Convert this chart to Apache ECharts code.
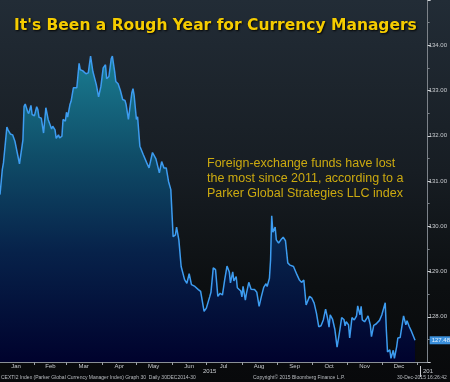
<!DOCTYPE html>
<html>
<head>
<meta charset="utf-8">
<script src="https://cdn.jsdelivr.net/npm/echarts@6/dist/echarts.min.js"></script>
<style>
html,body{margin:0;padding:0;}
body{width:450px;height:382px;overflow:hidden;background:linear-gradient(to bottom,#222c36 0%,#171d23 45%,#0c0f11 75%,#08090b 100%);}
#chart{width:450px;height:382px;}
</style>
</head>
<body>
<div id="chart"></div>
<script>
// Day of year 2015 (1 = Jan 1) for each observation
const dayOfYear = [2,4,5,8,9,11,13,15,17,19,20,22,23,24,26,27,29,30,32,34,35,36,38,40,41,42,44,45,47,48,50,51,53,54,56,57,59,60,61,63,64,66,67,69,71,72,74,77,79,81,83,84,86,88,90,92,94,95,97,99,100,102,103,105,107,109,111,112,114,115,117,118,119,121,122,124,125,127,128,130,132,133,135,138,141,143,145,147,149,151,152,153,155,156,158,160,163,165,167,169,172,175,177,178,180,182,185,186,188,190,192,194,196,198,200,202,203,205,206,208,209,212,213,214,216,217,219,221,222,224,226,228,230,232,234,235,237,238,239,240,242,243,245,247,249,251,253,255,258,259,261,263,265,267,268,269,272,274,276,278,280,282,284,286,288,289,290,292,294,296,298,300,302,303,304,306,307,309,311,313,314,316,317,318,320,322,323,325,326,328,330,331,333,335,338,339,340,342,343,345,346,348,349,351,352,354,356,357,359,361,364];
// Parker Global Currency Manager Index values
const indexValues = [130.70,131.25,131.40,132.19,132.13,132.04,132.02,131.88,131.63,131.38,
131.34,131.91,132.65,132.70,132.54,132.49,132.67,132.47,132.44,132.64,
132.58,132.41,132.39,132.06,132.10,132.62,132.36,132.32,132.15,132.21,
132.13,131.94,132.02,131.95,131.99,132.36,132.32,132.52,132.41,132.69,
132.76,133.06,133.04,133.06,133.60,133.46,133.44,133.37,133.39,133.76,
133.42,133.39,133.13,132.86,133.09,133.50,133.57,133.26,133.31,133.70,
133.76,133.42,133.20,133.15,133.00,132.80,132.78,132.69,132.36,132.32,
132.95,133.04,132.89,132.36,132.42,131.77,131.73,131.58,131.58,131.40,
131.29,131.27,131.63,131.49,131.18,131.43,131.29,131.29,130.99,130.81,
130.29,129.77,129.81,129.98,129.70,129.11,128.82,128.74,128.95,128.71,
128.67,128.60,128.56,128.58,128.12,128.19,128.45,128.54,129.08,129.04,
128.45,128.52,128.48,128.82,129.12,128.99,128.75,128.99,128.79,128.89,
128.64,128.57,128.44,128.67,128.37,128.52,128.76,128.61,128.58,128.60,
128.54,128.23,128.45,128.65,128.73,128.67,128.85,129.26,130.23,129.87,
129.98,129.70,129.63,129.70,129.76,129.68,129.19,129.14,129.11,129.13,
128.93,128.82,128.76,128.81,128.82,128.26,128.45,128.41,128.30,128.08,
127.78,127.80,127.93,128.17,127.93,127.77,128.04,127.95,127.73,127.33,
127.64,127.98,127.94,127.80,127.89,127.82,127.53,127.98,127.93,128.02,
128.24,128.04,128.23,127.93,127.89,127.97,128.02,127.82,127.56,127.81,
127.84,127.82,127.92,128.04,128.31,127.69,127.22,127.27,127.08,127.26,
127.08,127.34,127.53,127.54,127.58,128.02,127.82,127.91,127.78,127.67,
127.48];
// Month boundaries (day of year) and month label positions (mid-month)
const monthStarts = [32,60,91,121,152,182,213,244,274,305,335,366];
const monthMids = [16,46,75,106,136,167,197,228,259,289,320,350];
const monthNames = ['Jan','Feb','Mar','Apr','May','Jun','Jul','Aug','Sep','Oct','Nov','Dec'];

const titleText = "It's Been a Rough Year for Currency Managers";
const noteLines = ['Foreign-exchange funds have lost','the most since 2011, according to a','Parker Global Strategies LLC index'];
const footerLeft = 'CEXTI2 Index (Parker Global Currency Manager Index) Graph 30  Daily 30DEC2014-30';
const footerMid = 'Copyright\u00a9 2015 Bloomberg Finance L.P.';
const footerRight = '30-Dec-2015 16:26:42';

const seriesData = dayOfYear.map((d, i) => [d, indexValues[i]]);
const lastValue = indexValues[indexValues.length - 1];

const chart = echarts.init(document.getElementById('chart'), null, {renderer: 'canvas'});
const font = 'Liberation Sans, Arial, sans-serif';

chart.setOption({
  backgroundColor: 'transparent',
  animation: false,
  grid: {left: 0, right: 21, top: 0, bottom: 20, containLabel: false},
  xAxis: {
    type: 'value', min: 2, max: 375,
    axisLine: {show: true, lineStyle: {color: '#8a9096', width: 1}},
    axisTick: {show: true, customValues: monthStarts, length: 3, lineStyle: {color: '#9aa0a6'}},
    axisLabel: {show: true, customValues: monthMids, margin: 1, fontSize: 6, color: '#c9ccd0', fontFamily: font,
      formatter: v => monthNames[monthMids.indexOf(v)] || ''},
    splitLine: {show: false}
  },
  yAxis: {
    type: 'value', position: 'right', min: 127, max: 135, interval: 1,
    axisLine: {show: true, lineStyle: {color: '#7d838a', width: 1}},
    axisTick: {show: true, length: 3, inside: false, lineStyle: {color: '#d0d4d8'}},
    minorTick: {show: true, splitNumber: 2, length: 2, lineStyle: {color: '#7d838a'}},
    axisLabel: {show: true, margin: 1, fontSize: 6, color: '#c9ccd0', fontFamily: font,
      showMinLabel: false, showMaxLabel: false, formatter: v => v.toFixed(2)},
    splitLine: {show: false}
  },
  series: [{
    type: 'line',
    data: seriesData,
    showSymbol: false,
    smooth: false,
    lineStyle: {color: '#3d9cf0', width: 1.5},
    areaStyle: {
      color: {type: 'linear', x: 0, y: 45, x2: 0, y2: 362, global: true,
        colorStops: [
          {offset: 0, color: '#1b8296'},
          {offset: 0.35, color: '#0f4d68'},
          {offset: 0.65, color: '#07224a'},
          {offset: 1, color: '#00022d'}
        ]},
      opacity: 1
    },
    markLine: {
      silent: true, symbol: 'none',
      lineStyle: {color: 'rgba(0,0,0,0)', width: 0},
      label: {show: true, position: 'end', distance: 2, formatter: lastValue.toFixed(2),
        backgroundColor: '#3b90dc', color: '#e6f2ff', fontSize: 6, fontFamily: font, padding: [1, 2, 1, 2]},
      emphasis: {disabled: true},
      data: [{yAxis: lastValue}]
    }
  }],
  graphic: [
    {type: 'text', left: 14, top: 18, z: 10, style: {text: titleText, fill: '#f5cc00', font: 'bold 15.5px DejaVu Sans, Verdana, sans-serif',
      textShadowColor: 'rgba(0,0,0,0.9)', textShadowBlur: 2, textShadowOffsetX: 1, textShadowOffsetY: 1}},
    {type: 'text', left: 207, top: 156, z: 10, style: {text: noteLines.join('\n'), fill: '#ccaa10', font: '12.5px ' + font, lineHeight: 15}},
    {type: 'text', left: 203, top: 368, z: 10, style: {text: '2015', fill: '#c9ccd0', font: '6px ' + font}},
    {type: 'line', z: 10, shape: {x1: 420.5, y1: 366, x2: 420.5, y2: 377}, style: {stroke: '#c9ccd0', lineWidth: 1}},
    {type: 'text', left: 423, top: 368, z: 10, style: {text: '201', fill: '#c9ccd0', font: '6px ' + font}},
    {type: 'text', left: 1, top: 375, z: 10, style: {text: footerLeft, fill: '#b9bcc0', font: '5px ' + font}},
    {type: 'text', left: 253, top: 375, z: 10, style: {text: footerMid, fill: '#b9bcc0', font: '5px ' + font}},
    {type: 'text', left: 397, top: 375, z: 10, style: {text: footerRight, fill: '#b9bcc0', font: '5px ' + font}}
  ]
});
</script>
</body>
</html>
